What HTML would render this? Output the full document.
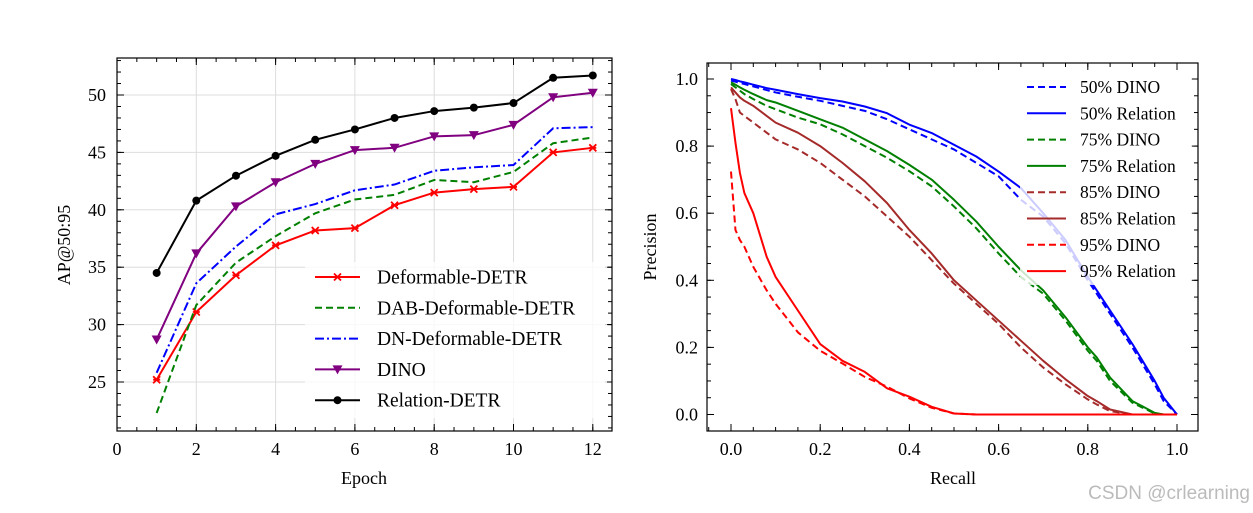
<!DOCTYPE html>
<html><head><meta charset="utf-8"><style>
body{margin:0;background:#fff;width:1253px;height:513px;overflow:hidden}
svg{display:block;font-family:"Liberation Serif",serif}
</style></head><body>
<svg id="c" width="1253" height="513"></svg>
<script>
// Left chart data
const epochs=[1,2,3,4,5,6,7,8,9,10,11,12];
const defDetr=[25.2,31.1,34.3,36.9,38.2,38.4,40.4,41.5,41.8,42.0,45.0,45.4];
const dabDetr=[22.3,31.7,35.4,37.7,39.7,40.9,41.3,42.6,42.4,43.3,45.8,46.3];
const dnDetr=[25.8,33.6,36.8,39.6,40.5,41.7,42.2,43.4,43.7,43.9,47.1,47.2];
const dino=[28.7,36.2,40.3,42.4,44.0,45.2,45.4,46.4,46.5,47.4,49.8,50.2];
const relDetr=[34.5,40.8,42.97,44.7,46.1,47.0,48.0,48.6,48.9,49.3,51.5,51.7];
const leftXTicks=[0,2,4,6,8,10,12];
const leftYTicks=[25,30,35,40,45,50];
// Right chart data
const recall=[0,0.01,0.02,0.03,0.05,0.08,0.1,0.15,0.2,0.25,0.3,0.35,0.4,0.45,0.5,0.55,0.6,0.65,0.7,0.75,0.8,0.82,0.85,0.9,0.95,0.97,1.0];
const p50Rel=[1.0,0.997,0.993,0.99,0.983,0.973,0.968,0.955,0.943,0.933,0.918,0.898,0.864,0.839,0.804,0.769,0.724,0.675,0.6,0.52,0.41,0.37,0.31,0.21,0.10,0.05,0];
const p50Dino=[0.995,0.992,0.988,0.985,0.978,0.967,0.96,0.947,0.935,0.92,0.905,0.88,0.85,0.82,0.79,0.75,0.71,0.64,0.59,0.51,0.40,0.36,0.30,0.20,0.09,0.04,0];
const p75Rel=[0.99,0.983,0.975,0.968,0.955,0.937,0.93,0.905,0.88,0.855,0.82,0.785,0.744,0.70,0.64,0.575,0.50,0.43,0.37,0.29,0.20,0.17,0.11,0.04,0.005,0,0];
const p75Dino=[0.985,0.975,0.965,0.955,0.94,0.92,0.91,0.885,0.865,0.835,0.80,0.765,0.725,0.68,0.62,0.555,0.48,0.41,0.36,0.28,0.19,0.16,0.10,0.035,0.003,0,0];
const p85Rel=[0.975,0.96,0.945,0.935,0.92,0.89,0.87,0.84,0.80,0.75,0.695,0.63,0.55,0.48,0.40,0.34,0.28,0.22,0.16,0.105,0.055,0.04,0.015,0,0,0,0];
const p85Dino=[0.97,0.94,0.90,0.89,0.87,0.84,0.82,0.79,0.75,0.70,0.65,0.59,0.53,0.46,0.39,0.33,0.27,0.20,0.14,0.09,0.045,0.03,0.01,0,0,0,0];
const p95Rel=[0.913,0.81,0.72,0.66,0.60,0.47,0.41,0.31,0.21,0.16,0.127,0.078,0.053,0.023,0.003,0,0,0,0,0,0,0,0,0,0,0,0];
const p95Dino=[0.724,0.55,0.52,0.50,0.44,0.37,0.33,0.245,0.19,0.152,0.112,0.083,0.048,0.02,0.003,0,0,0,0,0,0,0,0,0,0,0,0];
const rightTicks=[0,0.2,0.4,0.6,0.8,1.0];

const svg=document.getElementById('c');
const NS='http://www.w3.org/2000/svg';
function mk(t,a,p){const e=document.createElementNS(NS,t);for(const k in a)e.setAttribute(k,a[k]);(p||svg).appendChild(e);return e;}

const L={x0:117,x1:612,y0:58,y1:431};
const lx=v=>117+v*39.65;
const ly=v=>382-(v-25)*11.48;
const R={x0:707,x1:1198,y0:63,y1:431};
const rx=v=>731+v*446;
const ry=v=>414.5-v*335.5;

const gl=mk('g',{});


leftXTicks.forEach(t=>mk('line',{x1:lx(t),x2:lx(t),y1:L.y0,y2:L.y1,stroke:'#ddd','stroke-width':1},gl));
leftYTicks.forEach(t=>mk('line',{x1:L.x0,x2:L.x1,y1:ly(t),y2:ly(t),stroke:'#ddd','stroke-width':1},gl));

function ticks(ax,xs,ys,xm,ym,xf,yf,name){
  const g=mk('g',{stroke:'#000','stroke-width':1});
  
  
  xs.forEach(t=>{const X=xf(t);mk('line',{x1:X,x2:X,y1:ax.y1,y2:ax.y1-7},g);mk('line',{x1:X,x2:X,y1:ax.y0,y2:ax.y0+7},g);});
  xm.forEach(t=>{const X=xf(t);if(X<ax.x0||X>ax.x1)return;mk('line',{x1:X,x2:X,y1:ax.y1,y2:ax.y1-4},g);mk('line',{x1:X,x2:X,y1:ax.y0,y2:ax.y0+4},g);});
  ys.forEach(t=>{const Y=yf(t);mk('line',{x1:ax.x0,x2:ax.x0+7,y1:Y,y2:Y},g);mk('line',{x1:ax.x1,x2:ax.x1-7,y1:Y,y2:Y},g);});
  ym.forEach(t=>{const Y=yf(t);if(Y<ax.y0||Y>ax.y1)return;mk('line',{x1:ax.x0,x2:ax.x0+4,y1:Y,y2:Y},g);mk('line',{x1:ax.x1,x2:ax.x1-4,y1:Y,y2:Y},g);});
}
const lxm=[];for(let v=0.5;v<12.5;v+=0.5)lxm.push(v);
const lym=[];for(let v=21;v<54;v++)lym.push(v);
ticks(L,leftXTicks,leftYTicks,lxm,lym,lx,ly,'left-ticks');
const rm=[];for(let v=-0.05;v<1.06;v+=0.05)rm.push(v);
ticks(R,rightTicks,rightTicks,rm,rm,rx,ry,'right-ticks');

function label(x,y,txt,size,anchor,name,rot){
  const t=mk('text',{x:x,y:y,'font-size':size,'text-anchor':anchor||'middle',fill:'#000'});
  if(rot)t.setAttribute('transform',`rotate(-90 ${x} ${y})`);
  t.textContent=txt;
  
  
  return t;
}
leftXTicks.forEach(t=>label(lx(t),455,String(t),18,'middle','x-tick-label'));
leftYTicks.forEach(t=>label(106,ly(t)+6,String(t),18,'end','y-tick-label'));
rightTicks.forEach(t=>label(rx(t),455,t.toFixed(1),18,'middle','x-tick-label'));
rightTicks.forEach(t=>label(698,ry(t)+6,t.toFixed(1),18,'end','y-tick-label'));
label(364,484,'Epoch',18,'middle','left-x-axis-title');
label(70,245,'AP@50:95',18,'middle','left-y-axis-title',true);
label(953,484,'Recall',18,'middle','right-x-axis-title');
label(656,247,'Precision',18,'middle','right-y-axis-title',true);

function pts(xs,ys,fx,fy){return xs.map((x,i)=>fx(x)+','+fy(ys[i])).join(' ');}
function marker(type,x,y,color,g){
  if(type==='x'){mk('path',{d:`M${x-3.5},${y-3.5}L${x+3.5},${y+3.5}M${x-3.5},${y+3.5}L${x+3.5},${y-3.5}M${x-3.5},${y}L${x+3.5},${y}`,stroke:color,'stroke-width':1.8},g);}
  else if(type==='v'){mk('path',{d:`M${x-5},${y-4}L${x+5},${y-4}L${x},${y+5}Z`,fill:color},g);}
  else if(type==='o'){mk('circle',{cx:x,cy:y,r:4,fill:color},g);}
}
const leftSeries=[
 {n:'Deformable-DETR',d:defDetr,c:'#ff0000',dash:'',m:'x',name:'series-deformable-detr'},
 {n:'DAB-Deformable-DETR',d:dabDetr,c:'#008000',dash:'7,4',m:'',name:'series-dab-deformable-detr'},
 {n:'DN-Deformable-DETR',d:dnDetr,c:'#0000ff',dash:'9,3,2,3',m:'',name:'series-dn-deformable-detr'},
 {n:'DINO',d:dino,c:'#800080',dash:'',m:'v',name:'series-dino'},
 {n:'Relation-DETR',d:relDetr,c:'#000000',dash:'',m:'o',name:'series-relation-detr'}];
leftSeries.forEach(s=>{
  const g=mk('g',{});
  
  
  mk('polyline',{points:pts(epochs,s.d,lx,ly),fill:'none',stroke:s.c,'stroke-width':2,'stroke-dasharray':s.dash},g);
  if(s.m)epochs.forEach((e,i)=>marker(s.m,lx(e),ly(s.d[i]),s.c,g));
});
const lg=mk('g',{});


mk('rect',{x:305,y:262,width:302,height:156,fill:'rgba(255,255,255,0.8)'},lg);
leftSeries.forEach((s,i)=>{
  const y=277+i*30.8;
  const e=mk('g',{},lg);
  
  
  mk('line',{x1:315,x2:360,y1:y,y2:y,stroke:s.c,'stroke-width':2,'stroke-dasharray':s.dash},e);
  if(s.m)marker(s.m,337.5,y,s.c,e);
  const t=mk('text',{x:377,y:y+6.5,'font-size':19.5,fill:'#000'},e);t.textContent=s.n;
});

const rightSeries=[
 {n:'50% DINO',d:p50Dino,c:'#0000ff',dash:'7,4',name:'series-50-dino'},
 {n:'50% Relation',d:p50Rel,c:'#0000ff',dash:'',name:'series-50-relation'},
 {n:'75% DINO',d:p75Dino,c:'#008000',dash:'7,4',name:'series-75-dino'},
 {n:'75% Relation',d:p75Rel,c:'#008000',dash:'',name:'series-75-relation'},
 {n:'85% DINO',d:p85Dino,c:'#a52a2a',dash:'7,4',name:'series-85-dino'},
 {n:'85% Relation',d:p85Rel,c:'#a52a2a',dash:'',name:'series-85-relation'},
 {n:'95% DINO',d:p95Dino,c:'#ff0000',dash:'7,4',name:'series-95-dino'},
 {n:'95% Relation',d:p95Rel,c:'#ff0000',dash:'',name:'series-95-relation'}];
rightSeries.forEach(s=>{
  const p=mk('polyline',{points:pts(recall,s.d,rx,ry),fill:'none',stroke:s.c,'stroke-width':2,'stroke-dasharray':s.dash,'stroke-linejoin':'round'});
  
  
});
const rg=mk('g',{});


mk('rect',{x:1020,y:73,width:172,height:212,fill:'rgba(255,255,255,0.8)'},rg);
rightSeries.forEach((s,i)=>{
  const y=87+i*26.3;
  const e=mk('g',{},rg);
  
  
  mk('line',{x1:1027,x2:1066,y1:y,y2:y,stroke:s.c,'stroke-width':2,'stroke-dasharray':s.dash},e);
  const t=mk('text',{x:1080,y:y+6,'font-size':17.5,fill:'#000'},e);t.textContent=s.n;
});

[L,R].forEach((a,i)=>{
  const f=mk('rect',{x:a.x0,y:a.y0,width:a.x1-a.x0,height:a.y1-a.y0,fill:'none',stroke:'#000','stroke-width':1.2});
  
  
});
const w=mk('text',{x:1250,y:499,'font-size':19,'text-anchor':'end',fill:'#bbb','font-family':'Liberation Sans, sans-serif'});
w.textContent='CSDN @crlearning';


</script>
</body></html>
